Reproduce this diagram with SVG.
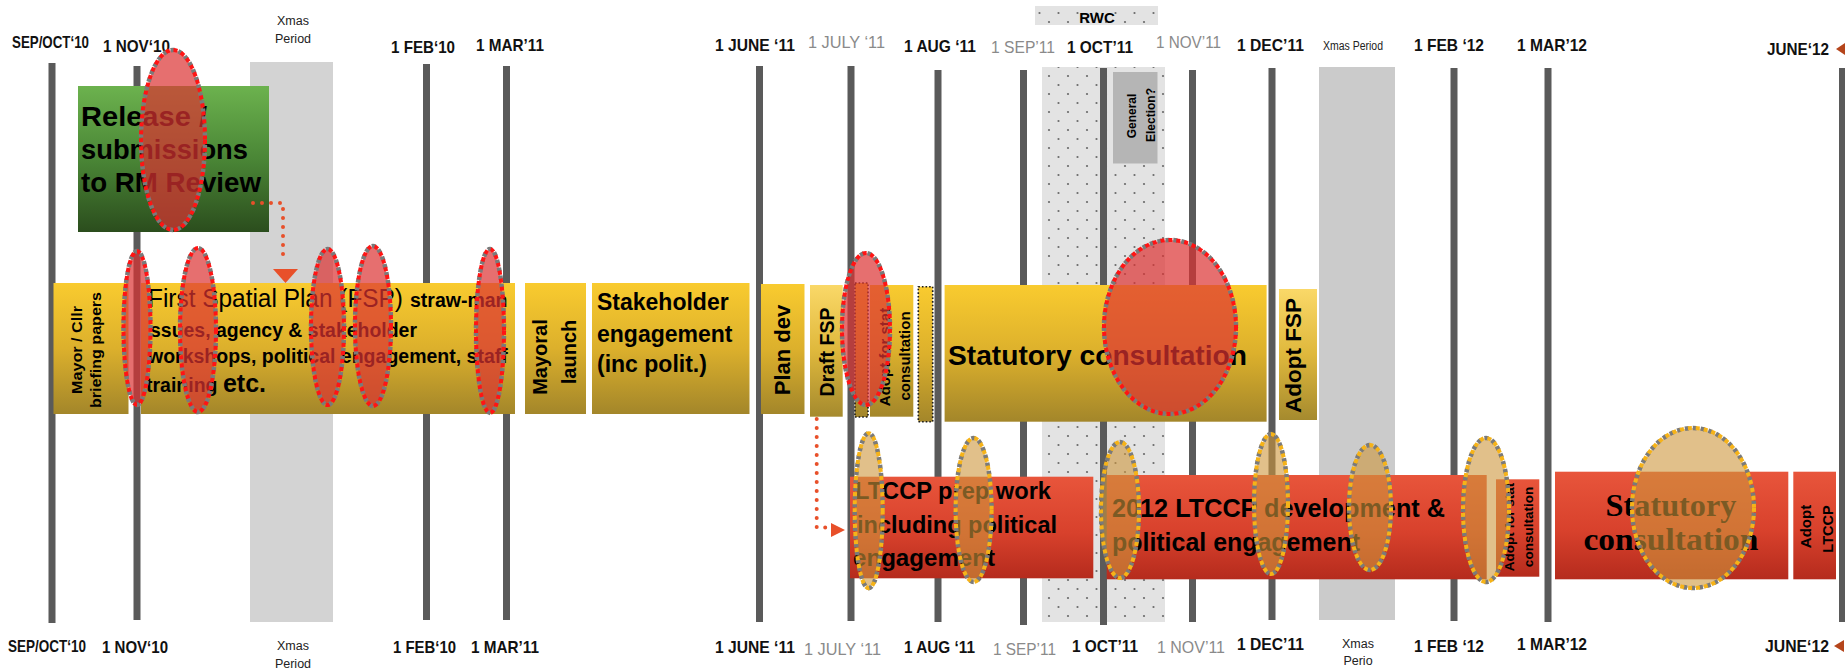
<svg xmlns="http://www.w3.org/2000/svg" width="1845" height="671" viewBox="0 0 1845 671">
<style>
.vl{fill:#5a5a5a}
.d{font-family:"Liberation Sans",Arial,sans-serif;font-weight:bold;font-size:17px;fill:#111}
.dg{font-family:"Liberation Sans",Arial,sans-serif;font-weight:normal;font-size:17px;fill:#8a8a8a}
.xm{font-family:"Liberation Sans",Arial,sans-serif;font-size:12.5px;fill:#222;text-anchor:middle}
.b{font-family:"Liberation Sans",Arial,sans-serif;font-weight:bold;fill:#000}
.rt{text-anchor:middle}
.yb{fill:url(#yg)}
.yl{fill:url(#ygl)}
.rb{fill:url(#rg)}
.db{fill:url(#yg);stroke:#1a1a1a;stroke-width:1.6;stroke-dasharray:1.6 2}
.rf{fill:rgba(220,50,50,0.7);stroke:#7a7a7a;stroke-width:4.5;stroke-dasharray:4 4;stroke-dashoffset:3}
.rs{fill:none;stroke:#ff1414;stroke-width:4;stroke-dasharray:4 4}
.of{fill:rgba(205,150,60,0.6);stroke:#7a7a7a;stroke-width:4.5;stroke-dasharray:4 4;stroke-dashoffset:3}
.os{fill:none;stroke:#f6b318;stroke-width:4;stroke-dasharray:4 4}
.cn{fill:none;stroke:#e8502a;stroke-width:4;stroke-linecap:round;stroke-dasharray:0 9}
.ah{fill:#e8502a}
.tri{fill:#b5451b}
</style>
<defs>
<linearGradient id="yg" x1="0" y1="0" x2="0" y2="1"><stop offset="0" stop-color="#f9cb2f"/><stop offset="0.5" stop-color="#dcb02c"/><stop offset="1" stop-color="#a3862a"/></linearGradient>
<linearGradient id="ygl" x1="0" y1="0" x2="0" y2="1"><stop offset="0" stop-color="#fad868"/><stop offset="0.5" stop-color="#dfb83c"/><stop offset="1" stop-color="#a58a2e"/></linearGradient>
<linearGradient id="gg" x1="0" y1="0" x2="0" y2="1"><stop offset="0" stop-color="#6cb24e"/><stop offset="0.5" stop-color="#4a8636"/><stop offset="1" stop-color="#2b4d1d"/></linearGradient>
<linearGradient id="rg" x1="0" y1="0" x2="0" y2="1"><stop offset="0" stop-color="#e8553b"/><stop offset="0.55" stop-color="#d8412c"/><stop offset="1" stop-color="#b52b1d"/></linearGradient>
<pattern id="dots" width="19" height="18" patternUnits="userSpaceOnUse"><rect width="19" height="18" fill="#e3e3e3"/><circle cx="4" cy="4" r="1.1" fill="#6a6a6a"/><circle cx="13.5" cy="13" r="1.1" fill="#6a6a6a"/></pattern>
<clipPath id="fspclip"><rect x="141" y="283" width="374" height="131"/></clipPath>
</defs>
<rect width="1845" height="671" fill="#fff"/>

<g id="periods">
<rect x="250" y="62" width="83" height="560" fill="#d3d3d3"/>
<rect x="1319" y="67" width="76" height="553" fill="#cbcbcb"/>
<rect x="1042" y="67" width="123" height="555" fill="url(#dots)"/>
<rect x="1035" y="6" width="123" height="19" fill="url(#dots)"/>
<text class="b" x="1097" y="23" font-size="15" text-anchor="middle" fill="#333">RWC</text>
</g>

<g id="timelines">
<rect class="vl" x="48.5" y="63" width="7" height="560"/>
<rect class="vl" x="133.5" y="66" width="7" height="554"/>
<rect class="vl" x="423" y="64" width="7" height="556"/>
<rect class="vl" x="503" y="66" width="7" height="554"/>
<rect class="vl" x="756" y="66" width="7" height="556"/>
<rect class="vl" x="847.5" y="66" width="7" height="555"/>
<rect class="vl" x="934.5" y="70" width="7" height="552"/>
<rect class="vl" x="1020" y="70" width="7" height="555"/>
<rect class="vl" x="1100" y="68" width="7" height="557"/>
<rect class="vl" x="1189" y="70" width="7" height="552"/>
<rect class="vl" x="1268.5" y="68" width="7" height="552"/>
<rect class="vl" x="1450.5" y="68" width="7" height="553"/>
<rect class="vl" x="1544.5" y="68" width="7" height="554"/>
<rect class="vl" x="1839" y="68" width="7" height="554"/>
</g>

<g id="general-election">
<rect x="1113" y="72" width="44.5" height="91.5" fill="#b5b5b5"/>
<text class="b rt" font-size="12" transform="translate(1136,116) rotate(-90)">General</text>
<text class="b rt" font-size="12" transform="translate(1155,115) rotate(-90)">Election?</text>
</g>

<g id="dates-top">
<text class="d" x="12" y="48" font-size="15" textLength="77" lengthAdjust="spacingAndGlyphs">SEP/OCT‘10</text>
<text class="d" x="103" y="52" textLength="67" lengthAdjust="spacingAndGlyphs">1 NOV‘10</text>
<text class="xm" x="293" y="25">Xmas</text>
<text class="xm" x="293" y="43">Period</text>
<text class="d" x="391" y="53" textLength="64" lengthAdjust="spacingAndGlyphs">1 FEB‘10</text>
<text class="d" x="476" y="51" textLength="68" lengthAdjust="spacingAndGlyphs">1 MAR’11</text>
<text class="d" x="715" y="51" textLength="80" lengthAdjust="spacingAndGlyphs">1 JUNE ‘11</text>
<text class="dg" x="808" y="48" textLength="77" lengthAdjust="spacingAndGlyphs">1 JULY ‘11</text>
<text class="d" x="904" y="52" textLength="72" lengthAdjust="spacingAndGlyphs">1 AUG ‘11</text>
<text class="dg" x="991" y="53" textLength="64" lengthAdjust="spacingAndGlyphs">1 SEP’11</text>
<text class="d" x="1067" y="53" textLength="66" lengthAdjust="spacingAndGlyphs">1 OCT’11</text>
<text class="dg" x="1156" y="48" textLength="65" lengthAdjust="spacingAndGlyphs">1 NOV’11</text>
<text class="d" x="1237" y="51" textLength="67" lengthAdjust="spacingAndGlyphs">1 DEC’11</text>
<text class="xm" x="1353" y="50" font-size="11" textLength="60" lengthAdjust="spacingAndGlyphs">Xmas Period</text>
<text class="d" x="1414" y="51" textLength="70" lengthAdjust="spacingAndGlyphs">1 FEB ‘12</text>
<text class="d" x="1517" y="51" textLength="70" lengthAdjust="spacingAndGlyphs">1 MAR’12</text>
<text class="d" x="1767" y="55" textLength="62" lengthAdjust="spacingAndGlyphs">JUNE‘12</text>
<polygon class="tri" points="1845,43 1845,55 1836,49"/>
</g>

<g id="dates-bottom">
<text class="d" x="8" y="652" font-size="15" textLength="78" lengthAdjust="spacingAndGlyphs">SEP/OCT‘10</text>
<text class="d" x="102" y="653" textLength="66" lengthAdjust="spacingAndGlyphs">1 NOV‘10</text>
<text class="xm" x="293" y="650">Xmas</text>
<text class="xm" x="293" y="668">Period</text>
<text class="d" x="393" y="653" textLength="63" lengthAdjust="spacingAndGlyphs">1 FEB‘10</text>
<text class="d" x="471" y="653" textLength="68" lengthAdjust="spacingAndGlyphs">1 MAR’11</text>
<text class="d" x="715" y="653" textLength="80" lengthAdjust="spacingAndGlyphs">1 JUNE ‘11</text>
<text class="dg" x="804" y="655" textLength="77" lengthAdjust="spacingAndGlyphs">1 JULY ‘11</text>
<text class="d" x="904" y="653" textLength="71" lengthAdjust="spacingAndGlyphs">1 AUG ‘11</text>
<text class="dg" x="993" y="655" textLength="63" lengthAdjust="spacingAndGlyphs">1 SEP’11</text>
<text class="d" x="1072" y="652" textLength="66" lengthAdjust="spacingAndGlyphs">1 OCT’11</text>
<text class="dg" x="1157" y="653" textLength="68" lengthAdjust="spacingAndGlyphs">1 NOV’11</text>
<text class="d" x="1237" y="650" textLength="67" lengthAdjust="spacingAndGlyphs">1 DEC’11</text>
<text class="xm" x="1358" y="648">Xmas</text>
<text class="xm" x="1358" y="665">Perio</text>
<text class="d" x="1414" y="652" textLength="70" lengthAdjust="spacingAndGlyphs">1 FEB ‘12</text>
<text class="d" x="1517" y="650" textLength="70" lengthAdjust="spacingAndGlyphs">1 MAR’12</text>
<text class="d" x="1765" y="652" textLength="64" lengthAdjust="spacingAndGlyphs">JUNE‘12</text>
<polygon class="tri" points="1844,640 1844,652 1834,646"/>
</g>

<g id="release-box">
<rect x="78" y="86" width="191" height="146" fill="url(#gg)"/>
<text class="b" font-size="28" x="81" y="126" textLength="126" lengthAdjust="spacingAndGlyphs">Release /</text>
<text class="b" font-size="28" x="81" y="159" textLength="167" lengthAdjust="spacingAndGlyphs">submissions</text>
<text class="b" font-size="28" x="81" y="192" textLength="180" lengthAdjust="spacingAndGlyphs">to RM Review</text>
</g>

<g id="mayor-briefing">
<rect class="yb" x="53.5" y="283" width="75" height="131"/>
<text class="b rt" font-size="14" transform="translate(82,350) rotate(-90)" textLength="88" lengthAdjust="spacingAndGlyphs">Mayor / Cllr</text>
<text class="b rt" font-size="14" transform="translate(101,350) rotate(-90)" textLength="116" lengthAdjust="spacingAndGlyphs">briefing papers</text>
</g>

<g id="fsp-strawman">
<rect class="yb" x="141" y="283" width="374" height="131"/>
<g clip-path="url(#fspclip)">
<text class="b" font-size="19.5" x="148" y="307"><tspan font-weight="normal" font-size="26" textLength="255" lengthAdjust="spacingAndGlyphs">First Spatial Plan (FSP)</tspan><tspan x="410">straw-man</tspan></text>
<text class="b" font-size="19.5" x="150" y="337" textLength="267" lengthAdjust="spacingAndGlyphs">ssues, agency &amp; stakeholder</text>
<text class="b" font-size="19.5" x="148" y="363">workshops, political engagement, staff</text>
<text class="b" font-size="19.5" x="146" y="392">training <tspan font-size="25">etc.</tspan></text>
</g>
</g>

<g id="mayoral-launch">
<rect class="yb" x="525" y="283" width="61" height="131"/>
<text class="b rt" font-size="20" transform="translate(547,357) rotate(-90)">Mayoral</text>
<text class="b rt" font-size="20" transform="translate(575.5,352) rotate(-90)">launch</text>
</g>

<g id="stakeholder">
<rect class="yb" x="592" y="283" width="157.5" height="131"/>
<text class="b" font-size="23" x="597" y="310">Stakeholder</text>
<text class="b" font-size="23" x="597" y="342">engagement</text>
<text class="b" font-size="23" x="597" y="372">(inc polit.)</text>
</g>

<g id="plan-dev">
<rect class="yb" x="761" y="284" width="43.5" height="130"/>
<text class="b rt" font-size="22" transform="translate(790,350) rotate(-90)">Plan dev</text>
</g>

<g id="draft-fsp">
<rect class="yl" x="810" y="285" width="32.7" height="131.7"/>
<text class="b rt" font-size="19.5" transform="translate(834,352) rotate(-90)">Draft FSP</text>
</g>

<g id="marker-box-1">
<rect class="db" x="855" y="283" width="13" height="134"/>
</g>

<g id="adopt-stat-1">
<rect class="yb" x="870" y="285" width="43.3" height="131.7"/>
<text class="b rt" font-size="15" transform="translate(890,357) rotate(-90)">Adopt for stat</text>
<text class="b rt" font-size="15" transform="translate(910,356) rotate(-90)">consultation</text>
</g>

<g id="marker-box-2">
<rect class="db" x="918.3" y="286.7" width="14.4" height="135"/>
</g>

<g id="statutory-fsp">
<rect class="yb" x="944.6" y="285" width="322" height="136.7"/>
<text class="b" font-size="28" x="948" y="365" textLength="299" lengthAdjust="spacingAndGlyphs">Statutory consultation</text>
</g>

<g id="adopt-fsp">
<rect class="yl" x="1279" y="289" width="38" height="131"/>
<text class="b rt" font-size="22.5" transform="translate(1301,355.5) rotate(-90)">Adopt FSP</text>
</g>

<g id="ltccp-prep">
<rect class="rb" x="850" y="476.7" width="243.3" height="101.6"/>
<text class="b" font-size="23" x="855" y="499" textLength="196" lengthAdjust="spacingAndGlyphs">LTCCP prep work</text>
<text class="b" font-size="23" x="857" y="532.5" textLength="200" lengthAdjust="spacingAndGlyphs">including political</text>
<text class="b" font-size="23" x="853" y="566" textLength="142" lengthAdjust="spacingAndGlyphs">engagement</text>
</g>

<g id="ltccp-2012">
<rect class="rb" x="1106.7" y="475" width="380" height="104.3"/>
<text class="b" font-size="25" x="1112" y="517" textLength="333" lengthAdjust="spacingAndGlyphs">2012 LTCCP development &amp;</text>
<text class="b" font-size="25" x="1112" y="551" textLength="248" lengthAdjust="spacingAndGlyphs">political engagement</text>
</g>

<g id="adopt-stat-2">
<rect class="rb" x="1496" y="479.3" width="43.3" height="97.4"/>
<text class="b rt" font-size="13.5" transform="translate(1514,527) rotate(-90)">Adopt for stat</text>
<text class="b rt" font-size="13.5" transform="translate(1533,527) rotate(-90)">consultation</text>
</g>

<g id="statutory-ltccp">
<rect class="rb" x="1555" y="471.7" width="233.3" height="107.6"/>
<text font-family="Liberation Serif, Times New Roman, serif" font-weight="bold" font-size="32" fill="#000" x="1671" y="516" text-anchor="middle" textLength="131" lengthAdjust="spacingAndGlyphs">Statutory</text>
<text font-family="Liberation Serif, Times New Roman, serif" font-weight="bold" font-size="32" fill="#000" x="1671" y="550" text-anchor="middle" textLength="175" lengthAdjust="spacingAndGlyphs">consultation</text>
</g>

<g id="adopt-ltccp">
<rect class="rb" x="1793.3" y="471.7" width="42.7" height="107.6"/>
<text class="b rt" font-size="15" transform="translate(1811,526.5) rotate(-90)">Adopt</text>
<text class="b rt" font-size="14.5" transform="translate(1833,529) rotate(-90)">LTCCP</text>
</g>

<g id="connectors">
<path class="cn" d="M253 203 H283 V262"/>
<polygon class="ah" points="273,269 298,269 285.5,283"/>
<path class="cn" d="M816.7 419 V527.5 H829"/>
<polygon class="ah" points="831,523 831,537 845,530"/>
</g>

<g id="highlights-red">
<ellipse class="rf" cx="173" cy="140" rx="32" ry="90"/><ellipse class="rs" cx="173" cy="140" rx="32" ry="90"/>
<ellipse class="rf" cx="137" cy="328" rx="13.5" ry="77"/><ellipse class="rs" cx="137" cy="328" rx="13.5" ry="77"/>
<ellipse class="rf" cx="198" cy="330" rx="18" ry="82"/><ellipse class="rs" cx="198" cy="330" rx="18" ry="82"/>
<ellipse class="rf" cx="327.5" cy="327" rx="16.5" ry="78"/><ellipse class="rs" cx="327.5" cy="327" rx="16.5" ry="78"/>
<ellipse class="rf" cx="373" cy="326" rx="18" ry="80"/><ellipse class="rs" cx="373" cy="326" rx="18" ry="80"/>
<ellipse class="rf" cx="490" cy="331" rx="14" ry="82"/><ellipse class="rs" cx="490" cy="331" rx="14" ry="82"/>
<ellipse class="rf" cx="866" cy="329" rx="24" ry="76"/><ellipse class="rs" cx="866" cy="329" rx="24" ry="76"/>
<ellipse class="rf" cx="1170" cy="327" rx="66" ry="87"/><ellipse class="rs" cx="1170" cy="327" rx="66" ry="87"/>
</g>

<g id="highlights-orange">
<ellipse class="of" cx="868.7" cy="510.7" rx="14" ry="77.5"/><ellipse class="os" cx="868.7" cy="510.7" rx="14" ry="77.5"/>
<ellipse class="of" cx="973.6" cy="510" rx="18" ry="72"/><ellipse class="os" cx="973.6" cy="510" rx="18" ry="72"/>
<ellipse class="of" cx="1120" cy="510" rx="19" ry="68"/><ellipse class="os" cx="1120" cy="510" rx="19" ry="68"/>
<ellipse class="of" cx="1271" cy="504" rx="17" ry="70"/><ellipse class="os" cx="1271" cy="504" rx="17" ry="70"/>
<ellipse class="of" cx="1370" cy="507.5" rx="21" ry="62.5"/><ellipse class="os" cx="1370" cy="507.5" rx="21" ry="62.5"/>
<ellipse class="of" cx="1486" cy="510" rx="23" ry="72"/><ellipse class="os" cx="1486" cy="510" rx="23" ry="72"/>
<ellipse class="of" cx="1693" cy="508" rx="61" ry="80"/><ellipse class="os" cx="1693" cy="508" rx="61" ry="80"/>
</g>
</svg>
